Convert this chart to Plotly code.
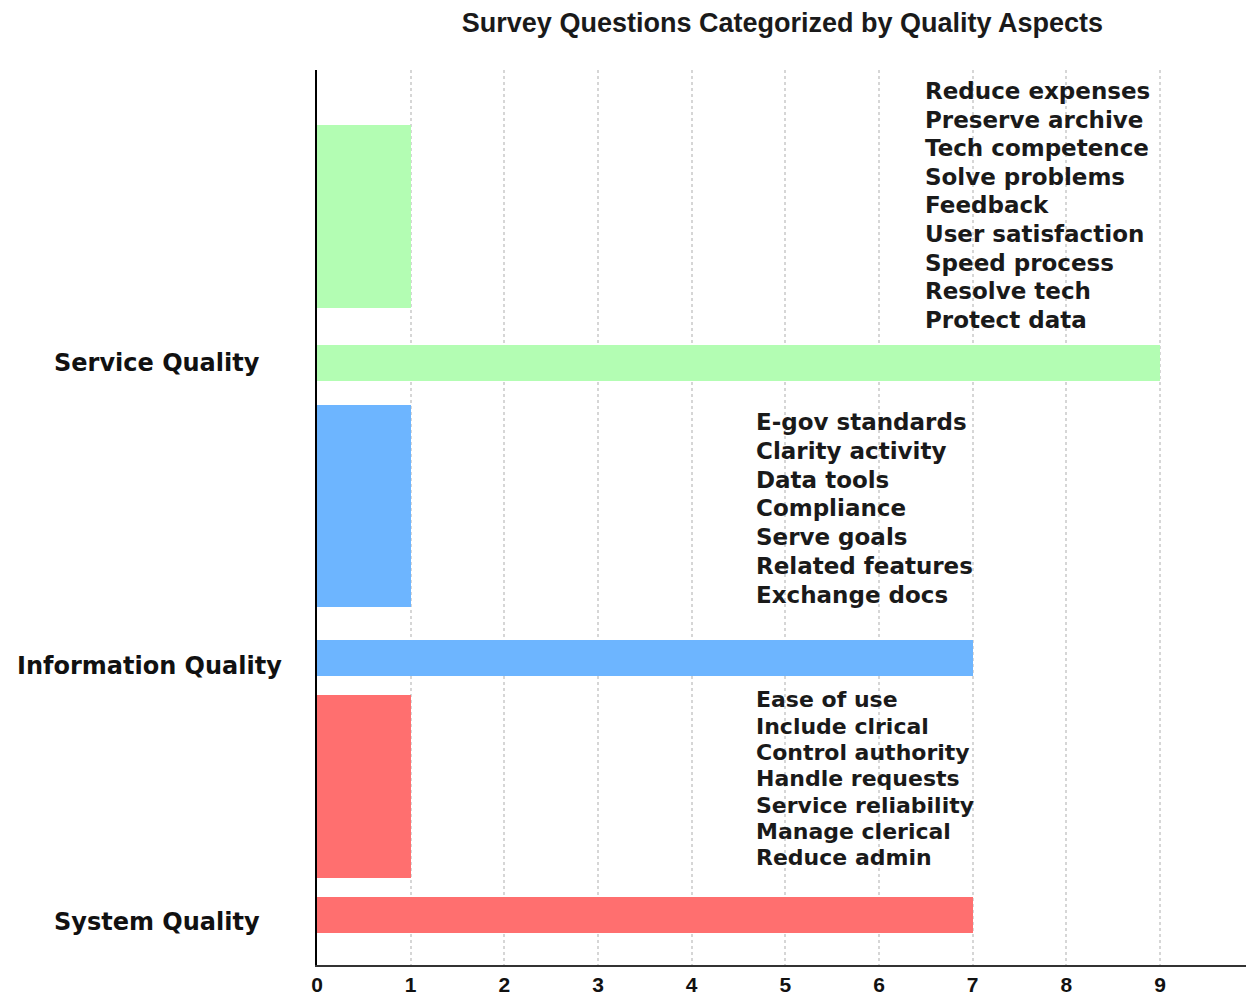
import plotly.graph_objects as go

# ---- data ----
categories = ["Service Quality", "Information Quality", "System Quality"]
question_counts = [9, 7, 7]
group_marker_values = [1, 1, 1]
service_items = ["Reduce expenses", "Preserve archive", "Tech competence", "Solve problems",
                 "Feedback", "User satisfaction", "Speed process", "Resolve tech", "Protect data"]
information_items = ["E-gov standards", "Clarity activity", "Data tools", "Compliance",
                     "Serve goals", "Related features", "Exchange docs"]
system_items = ["Ease of use", "Include clrical", "Control authority", "Handle requests",
                "Service reliability", "Manage clerical", "Reduce admin"]
x_tick_values = [0, 1, 2, 3, 4, 5, 6, 7, 8, 9]
title_text = "Survey Questions Categorized by Quality Aspects"

# ---- layout / style (not data) ----
colors = ["#b3fdb3", "#6db5ff", "#ff6f6f"]
long_center = [6.726, 3.430, 0.559]
long_width = 0.40
short_center = [8.363, 5.128, 1.994]
short_width = [2.045, 2.257, 2.045]
label_y = [6.726, 3.34, 0.48]
label_x = [-0.172, -0.18, -0.172]
item_lists = [service_items, information_items, system_items]
item_x = [6.47, 4.665, 4.665]
item_y0 = [9.765, 6.067, 2.961]
item_step = [0.3196, 0.3218, 0.2939]
item_size = [23, 23, 22]

fig = go.Figure()
for i, cat in enumerate(categories):
    fig.add_trace(go.Bar(
        orientation="h",
        x=[question_counts[i], group_marker_values[i]],
        y=[long_center[i], short_center[i]],
        width=[long_width, short_width[i]],
        marker=dict(color=colors[i], line=dict(width=0)),
        name=cat,
        showlegend=False,
    ))

annotations = []
for i, items in enumerate(item_lists):
    for k, txt in enumerate(items):
        annotations.append(dict(
            x=item_x[i], y=item_y0[i] - k * item_step[i], xref="x", yref="y",
            text=txt, showarrow=False, xanchor="left", yanchor="middle",
            font=dict(family="DejaVu Sans", size=item_size[i], color="#1a1a1a", weight="bold"),
        ))

for i, cat in enumerate(categories):
    annotations.append(dict(
        x=label_x[i], y=label_y[i], xref="paper", yref="y",
        text=cat, showarrow=False, xanchor="center", yanchor="middle",
        font=dict(family="DejaVu Sans", size=24, color="#111111", weight="bold"),
    ))

fig.update_layout(
    width=1246, height=996,
    margin=dict(l=317, r=0, t=70, b=31, autoexpand=False),
    plot_bgcolor="white", paper_bgcolor="white",
    title=dict(text=title_text, x=0.501, xref="paper", y=1 - 23 / 996, yref="container",
               xanchor="center", yanchor="middle",
               font=dict(family="Liberation Sans", size=27, color="#1a1a1a", weight="bold")),
    annotations=annotations,
    bargap=0,
)
fig.update_xaxes(
    range=[0, 9.918], tickvals=x_tick_values, showgrid=True, gridcolor="#d6d6d6",
    griddash="dot", gridwidth=1.5, zeroline=False, automargin=False,
    showline=True, linecolor="#333333", linewidth=2,
    ticks="", ticklabelstandoff=0,
    tickfont=dict(family="Liberation Sans", size=21, color="#111111", weight="bold"),
)
fig.update_yaxes(
    range=[0, 10], showgrid=False, zeroline=False, showticklabels=False, automargin=False,
    showline=True, linecolor="black", linewidth=2,
)

fig.write_html("out.html", config={"displayModeBar": False},
               post_script="document.body.style.margin='0';document.body.style.overflow='hidden';")
